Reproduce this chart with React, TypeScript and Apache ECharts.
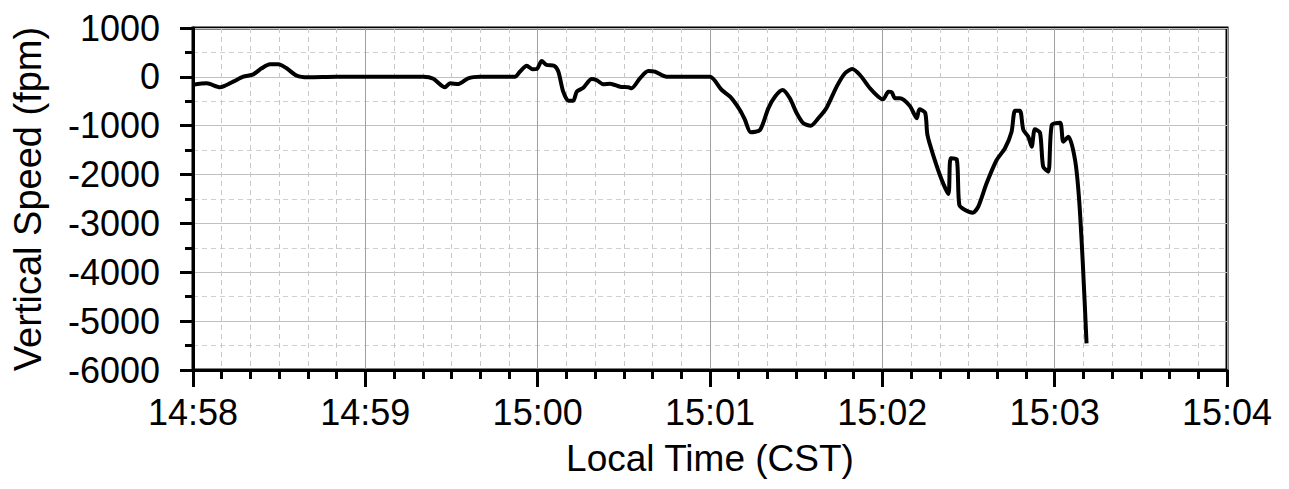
import React, { useEffect, useRef } from "react";
import * as echarts from "echarts";

// seconds after 14:58:00 CST
const timeSec = [
  0, 4.8, 9.4, 14.0, 17.5, 21.0, 23.9, 26.8, 29.7, 32.6, 36.1, 40.1, 50, 60, 70, 80.2,
  83.7, 87.7, 89.5, 92.4, 95.8, 100, 105, 112.1, 113.8, 116.2, 118.3, 119.7, 121.4, 123.1,
  125.7, 127.2, 128.9, 130.7, 132.4, 133.6, 135.9, 138.8, 140.6, 142.9, 145.2, 148.7,
  151.6, 152.7, 155.6, 158.5, 160.8, 164.9, 170, 175, 180,
  184.1, 187.0, 190.4, 192.2, 194.2, 197.4, 200.3, 202.6, 205.3, 207.8, 210.2, 212.5,
  215.1, 217.7, 220.6, 224.1, 227.0, 229.5, 232.2, 235.7, 238.6, 240.3, 242.1, 243.3,
  244.4, 246.1, 249.6, 252.0, 252.9, 254.9, 255.7, 257.7, 260.7, 263.0, 263.8, 265.9,
  266.8, 268.8, 271.5, 273.4, 276.3, 279.8, 282.7, 285.0, 286.2, 287.9, 289.1, 290.8,
  292.0, 293.1, 294.9, 296.0, 297.8, 299.0, 301.9, 303.0, 304.8, 307.1, 308.5, 309.8, 311.1,
];
const verticalSpeed = [
  -160, -132, -214, -99, 3, 52, 175, 257, 257, 175, 24, -10, 0, 0, 0, 0,
  -40, -214, -132, -146, -30, 0, 0, 0, 106, 228, 154, 160, 325, 243,
  228, 106, -304, -488, -488, -304, -222, -44, -70, -152, -140, -201,
  -214, -234, -30, 120, 106, 0, 0, 0, 0,
  -269, -406, -678, -883, -1135, -1088, -644, -406, -269, -439, -746, -951,
  -1000, -848, -631, -201, 73, 160, 38, -234, -406, -460, -304, -316,
  -439, -439, -597, -848, -664, -733, -1190, -1600, -2111, -2398, -1667, -1688,
  -2623, -2725, -2780, -2657, -2179, -1702, -1462, -1122, -693, -693, -1088, -1225,
  -1430, -1074, -1143, -1839, -1941, -985, -938, -1327, -1225, -1702, -2500, -3816, -5454,
];
const xTickLabels = ["14:58", "14:59", "15:00", "15:01", "15:02", "15:03", "15:04"];
const xTitle = "Local Time (CST)";
const yTitle = "Vertical Speed (fpm)";

export default function App() {
  const ref = useRef<HTMLDivElement>(null);
  useEffect(() => {
    if (!ref.current) return;
    const chart = echarts.init(ref.current, undefined, { renderer: "svg" });
    const font = "'Liberation Sans', Arial, sans-serif";
    chart.setOption({
      animation: false,
      backgroundColor: "#fff",
      grid: {
        left: 193, right: 62, top: 28, bottom: 119,
        show: true, borderColor: "#000", borderWidth: 3, backgroundColor: "transparent",
      },
      xAxis: {
        type: "value", min: 0, max: 360, interval: 60,
        name: xTitle, nameLocation: "middle", nameGap: 70,
        nameTextStyle: { fontSize: 37, color: "#000", fontFamily: font },
        axisLine: { onZero: false, lineStyle: { color: "#000", width: 3 } },
        axisTick: { length: 17, lineStyle: { color: "#000", width: 3 } },
        minorTick: { show: true, splitNumber: 6, length: 9, lineStyle: { color: "#000", width: 3 } },
        axisLabel: {
          fontSize: 36, color: "#000", fontFamily: font, margin: 24,
          formatter: (v: number) => xTickLabels[Math.round(v / 60)] ?? "",
        },
        splitLine: { show: true, lineStyle: { color: "#a0a0a0", width: 1 } },
        minorSplitLine: { show: true, lineStyle: { color: "#c8c8c8", width: 1, type: [5, 4] } },
      },
      yAxis: {
        type: "value", min: -6000, max: 1000, interval: 1000,
        name: yTitle, nameLocation: "middle", nameGap: 146,
        nameTextStyle: { fontSize: 38, color: "#000", fontFamily: font },
        axisLine: { onZero: false, lineStyle: { color: "#000", width: 3 } },
        axisTick: { length: 13, lineStyle: { color: "#000", width: 3 } },
        minorTick: { show: true, splitNumber: 2, length: 8, lineStyle: { color: "#000", width: 3 } },
        axisLabel: {
          fontSize: 36, color: "#000", fontFamily: font, margin: 33,
          formatter: (v: number) => String(v),
        },
        splitLine: { show: true, lineStyle: { color: "#c0c0c0", width: 1 } },
        minorSplitLine: { show: true, lineStyle: { color: "#d0d0d0", width: 1, type: [5, 4] } },
      },
      series: [
        {
          type: "line",
          data: timeSec.map((t, i) => [t, verticalSpeed[i]]),
          showSymbol: false,
          smooth: 0.25,
          lineStyle: { color: "#000", width: 4 },
        },
      ],
    });
    return () => chart.dispose();
  }, []);
  return (
    <div
      ref={ref}
      style={{ position: "fixed", left: 0, top: 0, width: 1289, height: 489, background: "#fff" }}
    />
  );
}
